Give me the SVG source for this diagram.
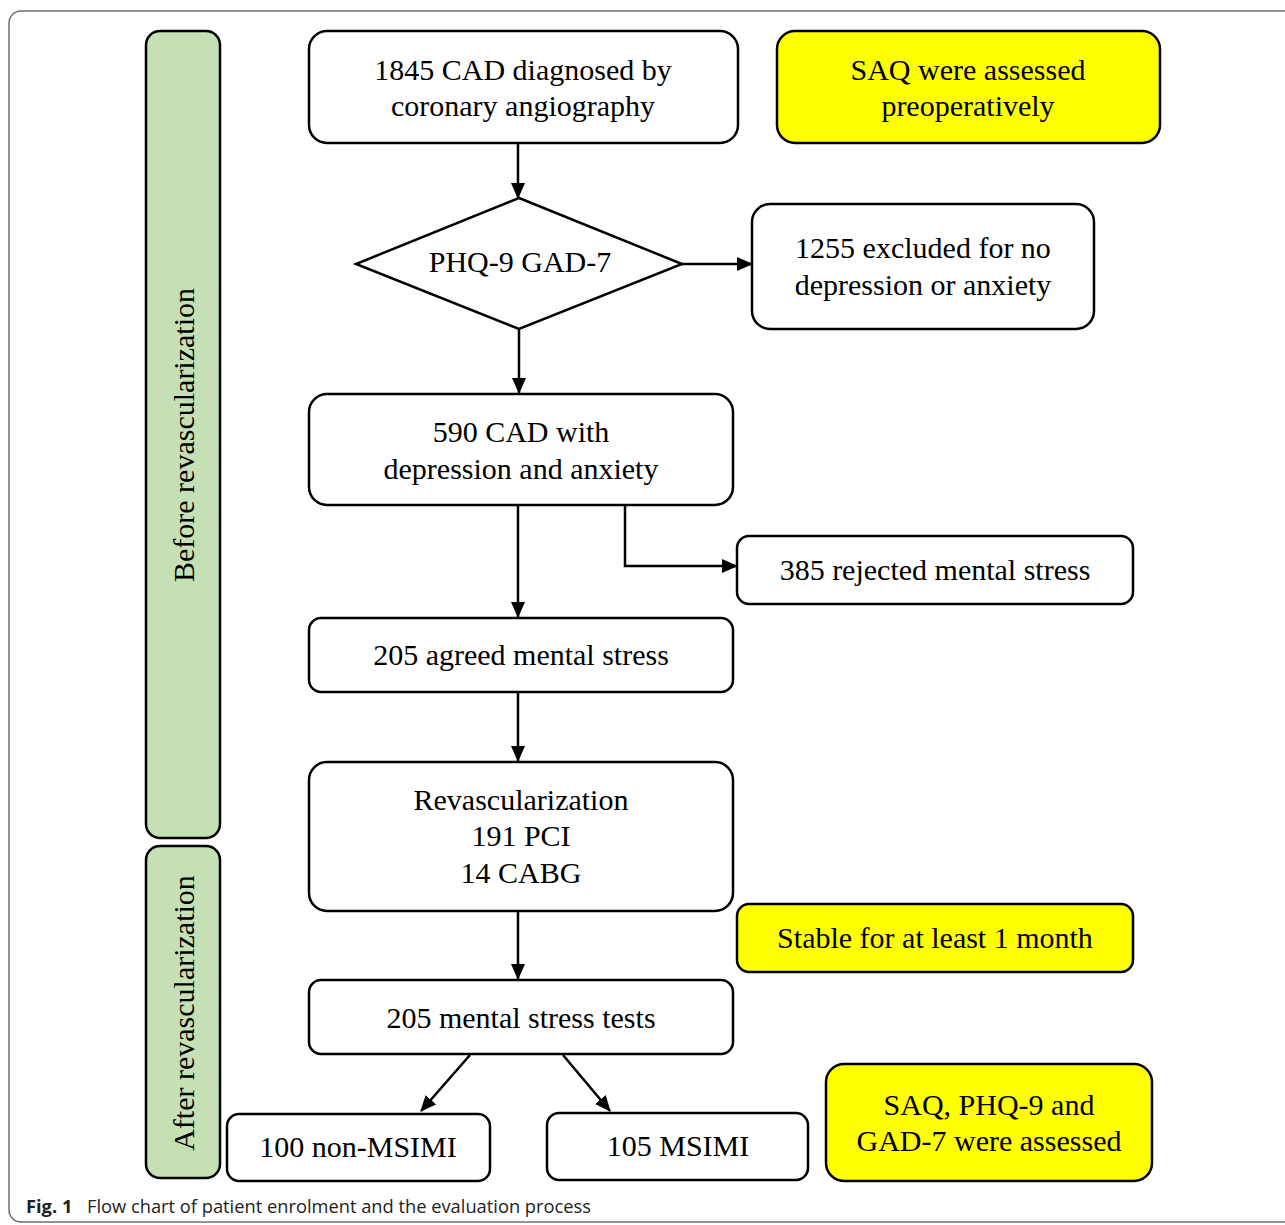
<svg xmlns="http://www.w3.org/2000/svg" width="1285" height="1225" viewBox="0 0 1285 1225">
<style>
.box{fill:#fff;stroke:#000;stroke-width:2.5}
.yel{fill:#ffff00;stroke:#000;stroke-width:2.5}
.grn{fill:#c5e0b4;stroke:#000;stroke-width:2.5}
.t{font-family:"Liberation Serif","Times New Roman",serif;font-size:30px;fill:#000;text-anchor:middle}
.c{stroke:#000;stroke-width:2.5;fill:none}
.cap{font-family:"Open Sans","Noto Sans",sans-serif;font-size:18.3px;fill:#222}
</style>
<defs>
<marker id="ah2" markerWidth="16" markerHeight="14" refX="15" refY="7" orient="auto" markerUnits="userSpaceOnUse" viewBox="0 0 16 14">
<path d="M0,0 L16,7 L0,14 z" fill="#000"/>
</marker>
</defs>
<rect width="1285" height="1225" fill="#fff"/>
<rect x="9" y="11" width="1300" height="1211" rx="12" fill="none" stroke="#707070" stroke-width="1.5"/>
<g id="side-before"><rect class="grn" x="146" y="31" width="74" height="807" rx="14"/><text class="t" transform="translate(194,435) rotate(-90)">Before revascularization</text></g>
<g id="side-after"><rect class="grn" x="146" y="846" width="74" height="332" rx="14"/><text class="t" transform="translate(194,1013) rotate(-90)">After revascularization</text></g>
<g id="n1"><rect class="box" x="309" y="31" width="429" height="112" rx="18"/><text class="t" x="523" y="80">1845 CAD diagnosed by</text><text class="t" x="523" y="116">coronary angiography</text></g>
<g id="saq1"><rect class="yel" x="777" y="31" width="383" height="112" rx="18"/><text class="t" x="968" y="80">SAQ were assessed</text><text class="t" x="968" y="116">preoperatively</text></g>
<g id="diamond"><polygon class="box" points="519,198 682,264 519,329 356,264"/><text class="t" x="520" y="272">PHQ-9 GAD-7</text></g>
<g id="n1255"><rect class="box" x="752" y="204" width="342" height="125" rx="18"/><text class="t" x="923" y="258">1255 excluded for no</text><text class="t" x="923" y="295">depression or anxiety</text></g>
<g id="n590"><rect class="box" x="309" y="394" width="424" height="111" rx="18"/><text class="t" x="521" y="442">590 CAD with</text><text class="t" x="521" y="479">depression and anxiety</text></g>
<g id="n385"><rect class="box" x="737" y="536" width="396" height="68" rx="12"/><text class="t" x="935" y="580">385 rejected mental stress</text></g>
<g id="n205a"><rect class="box" x="309" y="618" width="424" height="74" rx="12"/><text class="t" x="521" y="665">205 agreed mental stress</text></g>
<g id="nrev"><rect class="box" x="309" y="762" width="424" height="149" rx="18"/><text class="t" x="521" y="810">Revascularization</text><text class="t" x="521" y="846">191 PCI</text><text class="t" x="521" y="883">14 CABG</text></g>
<g id="stable"><rect class="yel" x="737" y="904" width="396" height="68" rx="12"/><text class="t" x="935" y="948">Stable for at least 1 month</text></g>
<g id="n205t"><rect class="box" x="309" y="980" width="424" height="74" rx="12"/><text class="t" x="521" y="1028">205 mental stress tests</text></g>
<g id="nnon"><rect class="box" x="227" y="1114" width="263" height="67" rx="12"/><text class="t" x="358" y="1157">100 non-MSIMI</text></g>
<g id="nms"><rect class="box" x="547" y="1113" width="261" height="67" rx="12"/><text class="t" x="678" y="1156">105 MSIMI</text></g>
<g id="saq2"><rect class="yel" x="826" y="1064" width="326" height="117" rx="18"/><text class="t" x="989" y="1115">SAQ, PHQ-9 and</text><text class="t" x="989" y="1151">GAD-7 were assessed</text></g>
<g id="connectors">
<line class="c" x1="518" y1="143" x2="518" y2="198" marker-end="url(#ah2)"/>
<line class="c" x1="682" y1="264" x2="752" y2="264" marker-end="url(#ah2)"/>
<line class="c" x1="519" y1="329" x2="519" y2="393" marker-end="url(#ah2)"/>
<polyline class="c" points="625,505 625,566 737,566" marker-end="url(#ah2)"/>
<line class="c" x1="518" y1="505" x2="518" y2="617" marker-end="url(#ah2)"/>
<line class="c" x1="518" y1="692" x2="518" y2="761" marker-end="url(#ah2)"/>
<line class="c" x1="518" y1="911" x2="518" y2="979" marker-end="url(#ah2)"/>
<line class="c" x1="470" y1="1055" x2="421" y2="1111" marker-end="url(#ah2)"/>
<line class="c" x1="563" y1="1055" x2="610" y2="1111" marker-end="url(#ah2)"/>
</g>
<text class="cap" x="26" y="1213"><tspan font-weight="bold">Fig. 1</tspan><tspan x="87">Flow chart of patient enrolment and the evaluation process</tspan></text>
</svg>
